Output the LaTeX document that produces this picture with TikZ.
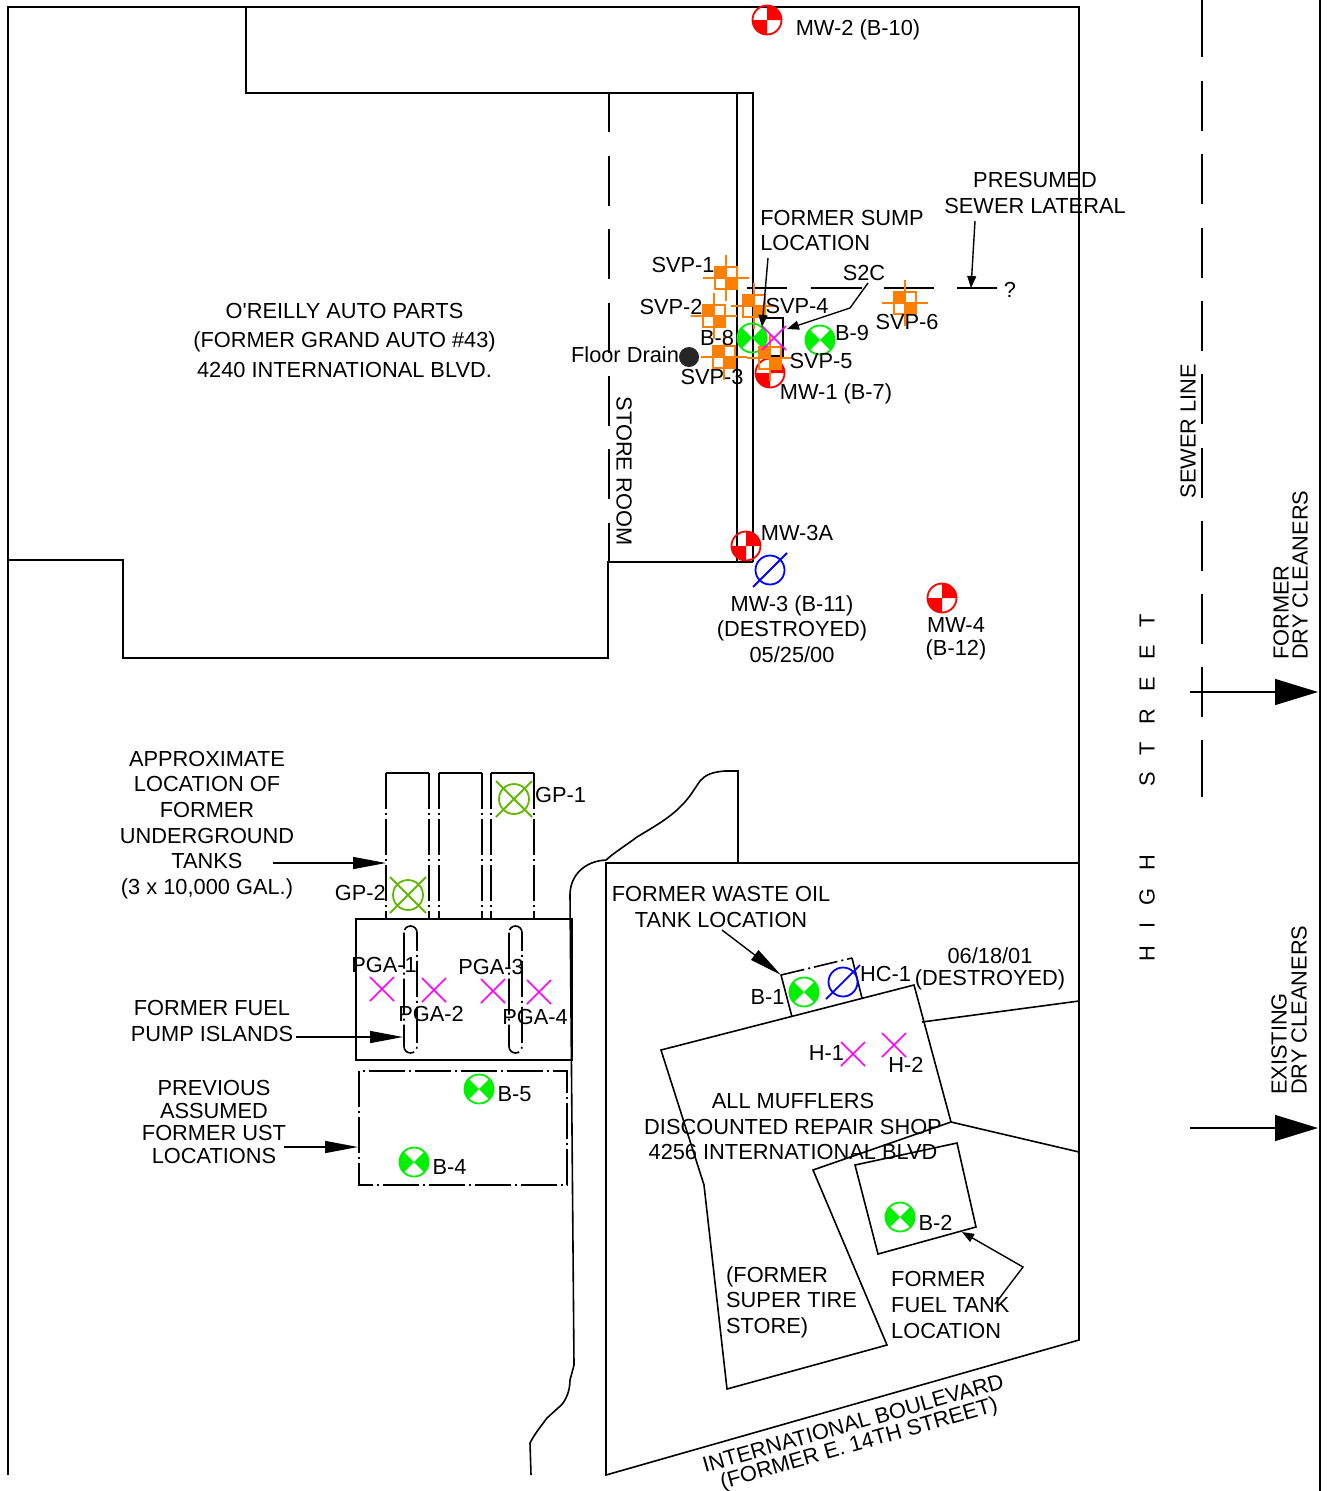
\documentclass[tikz,border=0pt]{standalone}
\usepackage{fontspec}
\setmainfont{Liberation Sans}
\usetikzlibrary{arrows.meta}
\definecolor{bgreen}{RGB}{0,240,0}
\definecolor{gpgreen}{RGB}{96,184,0}
\definecolor{svporange}{RGB}{255,128,0}
\definecolor{pgapink}{RGB}{255,0,255}
\tikzset{
    every node/.style={font=\fontsize{21.8}{25.6}\selectfont, align=center, inner sep=0pt},
    wall/.style={line width=1.6pt},
    longdash/.style={line width=1.6pt, dash pattern=on 50pt off 23.3pt},
    dashdot/.style={line width=1.6pt, dash pattern=on 36pt off 4pt on 2pt off 4pt},
    pointer/.style={line width=1.4pt, -{Triangle[length=33pt,width=12pt]}},
    small pointer/.style={line width=1.4pt, -{Triangle[length=12pt,width=9pt]}},
    big pointer/.style={line width=1.4pt, -{Triangle[length=43pt,width=26pt]}},
}
\begin{document}
\begin{tikzpicture}[x=1pt,y=-1pt]
\useasboundingbox (0,0) rectangle (1326,1491);
% Variables: 1 := position, 2 := ID.
\def\bhole(#1)#2{
    \begin{scope}[shift={(#1)}]
        \fill[bgreen] (0,0) -- (135:15pt) arc[start angle=135,end angle=225,radius=15pt] -- cycle;
        \fill[bgreen] (0,0) -- (-45:15pt) arc[start angle=-45,end angle=45,radius=15pt] -- cycle;
        \node[draw=bgreen,line width=1.8pt,circle,minimum size=29pt] (#2) at (0,0) {};
    \end{scope}
}
\def\mwell(#1)#2{
    \begin{scope}[shift={(#1)}]
        \fill[red] (0,0) -- (0:15pt) arc[start angle=0,end angle=90,radius=15pt] -- cycle;
        \fill[red] (0,0) -- (180:15pt) arc[start angle=180,end angle=270,radius=15pt] -- cycle;
        \node[draw=red,line width=1.8pt,circle,minimum size=29pt] (#2) at (0,0) {};
    \end{scope}
}
\def\svpoint(#1)#2{
    \begin{scope}[shift={(#1)}]
        \fill[svporange] (-11,-11) rectangle (0,0);
        \fill[svporange] (0,0) rectangle (11,11);
        \node[draw=svporange,line width=1.6pt,minimum size=22pt] (#2) at (0,0) {};
        \draw[svporange,line width=1.6pt] (-23,0) -- (23,0) (0,-23) -- (0,23);
    \end{scope}
}
\def\pgamark(#1)#2{
    \begin{scope}[shift={(#1)}]
        \coordinate (#2) at (0,0);
        \draw[pgapink,line width=1.6pt] (-12,-12) -- (12,12) (-12,12) -- (12,-12);
    \end{scope}
}
\def\gpoint(#1)#2{
    \begin{scope}[shift={(#1)}]
        \node[draw=gpgreen,line width=1.8pt,circle,minimum size=30pt] (#2) at (0,0) {};
        \draw[gpgreen,line width=1.8pt] (-18,-18) -- (18,18) (-18,18) -- (18,-18);
    \end{scope}
}
\def\destroyed(#1)#2{
    \begin{scope}[shift={(#1)}]
        \node[draw=blue,line width=1.8pt,circle,minimum size=29pt] (#2) at (0,0) {};
        \draw[blue,line width=1.8pt] (-17,17) -- (17,-17);
    \end{scope}
}
% walls of the store
\draw[wall] (8,1475) -- (8,7) -- (1079,7) -- (1079,1340) -- (606,1475) -- (606,863) -- (1079,863);
\draw[wall] (246,7) -- (246,93) -- (753,93) -- (753,562);
\draw[wall] (737,93) -- (737,562);
\draw[wall] (8,560) -- (123,560) -- (123,658) -- (608,658) -- (608,562) -- (753,562);
\draw[wall] (609,93) -- (609,132);
\draw[longdash] (609,156) -- (609,562);
\draw[wall] (1320,0) -- (1320,1491);
\draw[wall] (1202,0) -- (1202,57);
\draw[longdash] (1202,81) -- (1202,717);
\draw[wall] (1202,740) -- (1202,797);
% sewer lateral
\draw[wall] (747,288) -- (787,288) (811,288) -- (862,288) (884,288) -- (934,288) (957,288) -- (997,288);
\draw[wall] (763,318) -- (783,318) -- (783,356) -- (763,356);
% tanks
\foreach \xa/\xb in {386/429,439/482,491/534}{
    \draw[wall] (\xa,773) -- (\xb,773);
    \draw[dashdot] (\xa,773) -- (\xa,919);
    \draw[dashdot] (\xb,773) -- (\xb,919);
}
\draw[wall] (356,919) rectangle (572,1060);
\draw[dashdot,rounded corners=6.5pt] (404,926) rectangle (417,1053);
\draw[dashdot,rounded corners=6.5pt] (509,926) rectangle (522,1053);
\draw[dashdot] (359,1071) rectangle (567,1185);
% shoreline of the neighbouring lot
\draw[wall] (738,863) -- (738,771) -- (725,771) .. controls (712,772) and (705,775) .. (700,781)
    .. controls (695,788) and (690,797) .. (683,804)
    .. controls (670,818) and (655,826) .. (637,837)
    .. controls (625,846) and (615,852) .. (606,860)
    .. controls (585,861) and (570,875) .. (570,895)
    -- (574,1365) -- (570,1380) .. controls (570,1392) and (565,1403) .. (558,1408)
    -- (547,1418) .. controls (542,1425) and (535,1433) .. (530,1443) -- (531,1475);
% muffler shop
\draw[wall] (661,1050) -- (914,985) -- (951,1122) -- (813,1170) -- (887,1345) -- (727,1389) -- (704,1185) -- cycle;
\draw[wall] (922,1022) -- (1079,1001);
\draw[wall] (951,1122) -- (1079,1152);
\draw[wall] (855,1165) -- (957,1143) -- (976,1227) -- (878,1254) -- cycle;
\draw[wall] (792,1017) -- (781,975);
\draw[wall] (852,958) -- (862,998);
\draw[wall,dash pattern=on 24pt off 4pt on 2pt off 4pt] (781,975) -- (852,958);

% sample points
\svpoint(726,278){SVP1}
\svpoint(714,316){SVP2}
\svpoint(754,306){SVP4}
\svpoint(724,357){SVP3}
\svpoint(905,303){SVP6}
\bhole(752,338){B8}
\bhole(820,340){B9}
\mwell(770,373){MW1}
\svpoint(770,358){SVP5}
\pgamark(774,338){S2C}
\node[circle,fill=black!85,minimum size=20pt] (DRAIN) at (689,357) {};
\mwell(767,20){MW2}
\mwell(746,546){MW3A}
\destroyed(770,570){MW3}
\mwell(942,598){MW4}
\gpoint(514,799){GP1}
\gpoint(408,895){GP2}
\pgamark(382,989){PGA1}
\pgamark(434,990){PGA2}
\pgamark(493,991){PGA3}
\pgamark(539,992){PGA4}
\bhole(479,1089){B5}
\bhole(414,1162){B4}
\bhole(804,992){B1}
\destroyed(843,982){HC1}
\pgamark(853,1054){H1}
\pgamark(894,1045){H2}
\bhole(900,1217){B2}

% pointers
\coordinate (SUMP) at (768,258);
\coordinate (SUMPEND) at (762,327);
\coordinate (LATERAL) at (975,221);
\coordinate (LATERALEND) at (971,288);
\coordinate (S2CA) at (868,283);
\coordinate (S2CB) at (850,308);
\coordinate (S2CEND) at (787,329);
\coordinate (TANKA) at (273,863);
\coordinate (TANKEND) at (386,863);
\coordinate (ISLANDA) at (296,1037);
\coordinate (ISLANDEND) at (403,1037);
\coordinate (USTA) at (284,1147);
\coordinate (USTEND) at (358,1147);
\coordinate (OILA) at (722,930);
\coordinate (OILEND) at (781,975);
\coordinate (FUELA) at (995,1304);
\coordinate (FUELB) at (1023,1267);
\coordinate (FUELEND) at (962,1232);
\coordinate (FORMERA) at (1190,692);
\coordinate (FORMEREND) at (1318,692);
\coordinate (EXISTA) at (1190,1128);
\coordinate (EXISTEND) at (1318,1128);
\draw[small pointer] (SUMP) -- (SUMPEND);
\draw[small pointer] (LATERAL) -- (LATERALEND);
\draw[small pointer] (S2CA) -- (S2CB) -- (S2CEND);
\draw[pointer] (TANKA) -- (TANKEND);
\draw[pointer] (ISLANDA) -- (ISLANDEND);
\draw[pointer] (USTA) -- (USTEND);
\draw[pointer] (OILA) -- (OILEND);
\draw[small pointer] (FUELA) -- (FUELB) -- (FUELEND);
\draw[big pointer] (FORMERA) -- (FORMEREND);
\draw[big pointer] (EXISTA) -- (EXISTEND);

% labels
\node (LMW2) at (858,29.5) {MW-2 (B-10)};
\node (LPRES) at (1035,193) {PRESUMED\\SEWER LATERAL};
\node[align=left,font=\fontsize{21.8}{25}\selectfont] (LSUMP) at (842,230) {FORMER SUMP\\LOCATION};
\node[font=\fontsize{21.8}{29.5}\selectfont] (LSTORE) at (344.5,340) {O\textquotesingle REILLY AUTO PARTS\\(FORMER GRAND AUTO \#43)\\4240 INTERNATIONAL BLVD.};
\node (LSVP1) at (683,265) {SVP-1};
\node (LSVP2) at (671,307) {SVP-2};
\node (LSVP3) at (712,377) {SVP-3};
\node (LSVP4) at (797,306) {SVP-4};
\node (LSVP5) at (821,361) {SVP-5};
\node (LSVP6) at (907,322) {SVP-6};
\node (LS2C) at (864,273) {S2C};
\node (LQ) at (1010,290) {?};
\node (LB8) at (717,338) {B-8};
\node (LB9) at (852,333) {B-9};
\node (LDRAIN) at (625,355) {Floor Drain};
\node (LMW1) at (836,393.5) {MW-1 (B-7)};
\node[rotate=-90] (LROOM) at (624,471) {STORE ROOM};
\node[rotate=90] (LSEWER) at (1188,431) {SEWER LINE};
\node (LMW3A) at (797,533) {MW-3A};
\node (LMW3) at (792,629) {MW-3 (B-11)\\(DESTROYED)\\05/25/00};
\node[font=\fontsize{21.8}{23}\selectfont] (LMW4) at (956,638.5) {MW-4\\(B-12)};
\node[rotate=90,anchor=west] (LFORMER) at (1281,660) {FORMER};
\node[rotate=90,anchor=west] (LDRY) at (1300,660) {DRY CLEANERS};
\node[rotate=90,anchor=west] (LEXIST) at (1279,1095) {EXISTING};
\node[rotate=90,anchor=west] (LDRYB) at (1299,1095) {DRY CLEANERS};
\node[rotate=90,anchor=west] (LHIGH) at (1147,962) {\addfontfeature{LetterSpace=80}HIGH\ \ \kern 21pt STREET};
\node (LAPPROX) at (207,825) {APPROXIMATE\\LOCATION OF\\FORMER\\UNDERGROUND\\TANKS\\(3 x 10,000 GAL.)};
\node[anchor=west] (LGP1) at (535,794.5) {GP-1};
\node[anchor=east] (LGP2) at (386,892.5) {GP-2};
\node (LPGA1) at (384,965) {PGA-1};
\node (LPGA2) at (431,1014) {PGA-2};
\node (LPGA3) at (491,967) {PGA-3};
\node (LPGA4) at (535,1017) {PGA-4};
\node (LPUMP) at (212,1021) {FORMER FUEL\\PUMP ISLANDS};
\node[font=\fontsize{21.8}{22.4}\selectfont] (LUST) at (214,1122) {PREVIOUS\\ASSUMED\\FORMER UST\\LOCATIONS};
\node (LB5) at (514.5,1094) {B-5};
\node (LB4) at (449.5,1167) {B-4};
\node (LOIL) at (721,907) {FORMER WASTE OIL\\TANK LOCATION};
\node (LB1) at (767.5,997) {B-1};
\node[anchor=west] (LHC1) at (860,974) {HC-1};
\node[font=\fontsize{21.8}{22.5}\selectfont] (LDEST) at (990,969) {06/18/01\\(DESTROYED)};
\node (LH1) at (826.5,1053) {H-1};
\node (LH2) at (906,1065) {H-2};
\node (LMUFF) at (793,1126.5) {ALL MUFFLERS\\DISCOUNTED REPAIR SHOP\\4256 INTERNATIONAL BLVD};
\node (LB2) at (935.5,1222.5) {B-2};
\node[align=left,anchor=west] (LTIRE) at (726,1302) {(FORMER\\SUPER TIRE\\STORE)};
\node[align=left,anchor=west] (LTANK) at (891,1305) {FORMER\\FUEL TANK\\LOCATION};
\node[rotate=15.8,font=\fontsize{21.8}{20.5}\selectfont] (LBLVD) at (856.5,1435) {INTERNATIONAL BOULEVARD\\(FORMER E. 14TH STREET)};
\end{tikzpicture}
\end{document}
